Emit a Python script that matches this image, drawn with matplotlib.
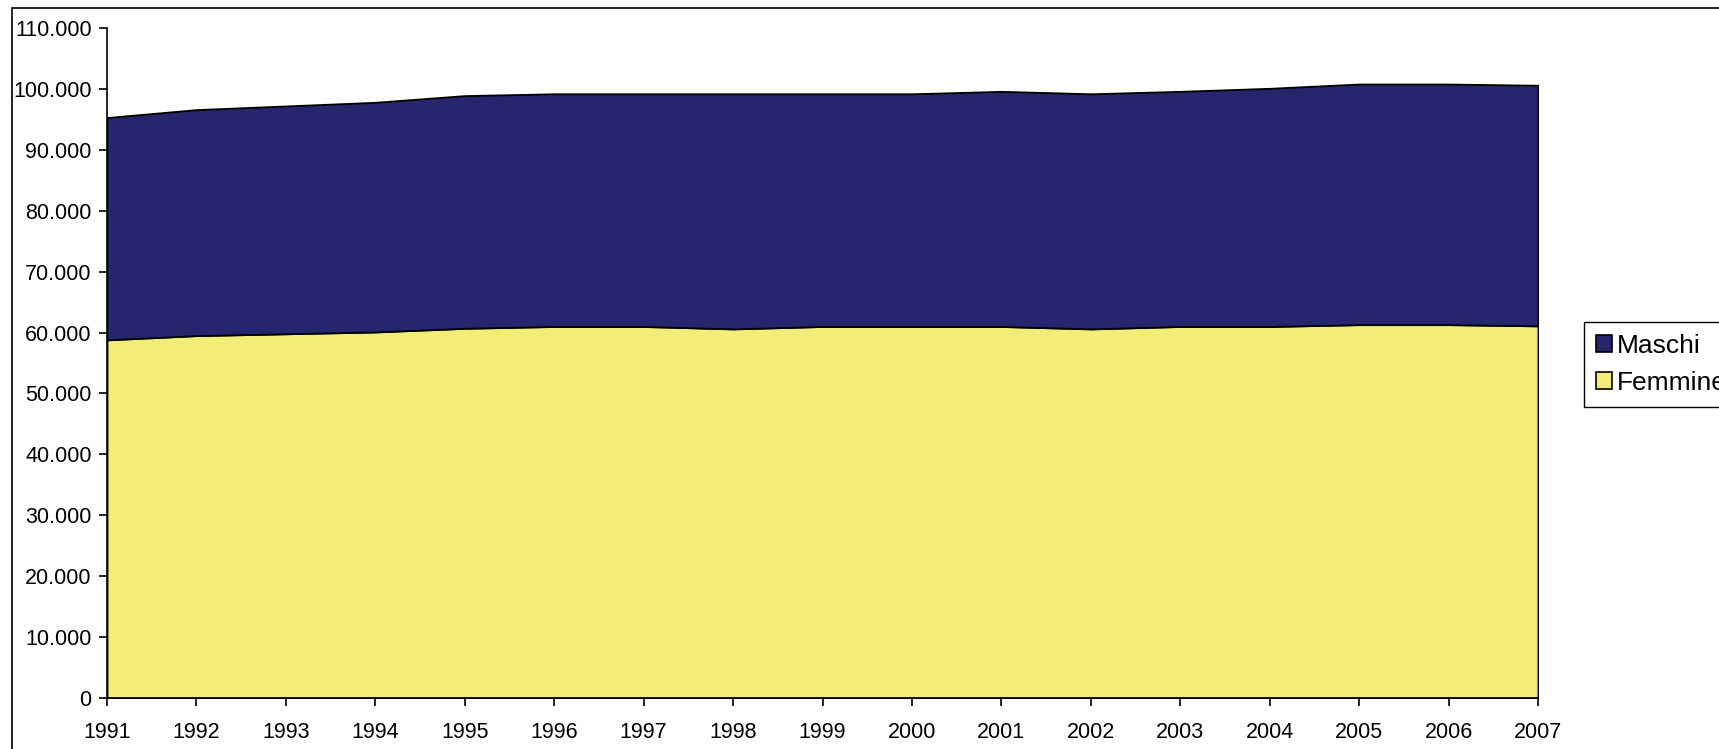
import matplotlib.pyplot as plt
import matplotlib.patches as patches
from matplotlib.ticker import FuncFormatter

# Popolazione per sesso, 1991-2007
years = list(range(1991, 2008))
femmine = [58800, 59500, 59800, 60100, 60700, 61000, 61000, 60600, 61000,
           61000, 61000, 60600, 61000, 61000, 61300, 61300, 61100]
maschi = [36500, 37100, 37400, 37700, 38200, 38200, 38200, 38600, 38200,
          38200, 38600, 38600, 38600, 39100, 39500, 39500, 39500]

labels = ['Femmine', 'Maschi']
colors = ['#F1ED76', '#26266E']

plt.rcParams['font.family'] = ['Liberation Sans', 'DejaVu Sans']

fig = plt.figure(figsize=(17.19, 7.49), dpi=100)
ax = fig.add_axes([107 / 1719, 1 - 698 / 749, (1538 - 107) / 1719, (698 - 28) / 749])

polys = ax.stackplot(years, femmine, maschi, labels=labels, colors=colors,
                     edgecolor='black', linewidth=1.3)

ax.set_xlim(1991, 2007)
ax.set_ylim(0, 110000)
ax.set_xticks(years)
ax.set_yticks(range(0, 110001, 10000))
ax.yaxis.set_major_formatter(FuncFormatter(lambda v, p: f'{int(v):,}'.replace(',', '.')))

for s in ['top', 'right']:
    ax.spines[s].set_visible(False)
for s in ['left', 'bottom']:
    ax.spines[s].set_linewidth(1.2)

ax.tick_params(axis='both', direction='out', length=6, width=1.2, labelsize=15.5)
ax.tick_params(axis='x', pad=11)
ax.tick_params(axis='y', pad=5)

# legenda: Maschi sopra, Femmine sotto
handles, lbls = ax.get_legend_handles_labels()
leg = fig.legend(handles[::-1], lbls[::-1], loc='upper left',
                 bbox_to_anchor=(1584 / 1719, 1 - 322 / 749),
                 fontsize=19, frameon=True, fancybox=False, framealpha=1,
                 edgecolor='black', handlelength=0.6, handleheight=0.6,
                 handletextpad=0.2, labelspacing=0.5, borderpad=0.45,
                 borderaxespad=0)
leg.get_frame().set_linewidth(1.0)
for h in leg.legend_handles:
    h.set_edgecolor('black')
    h.set_linewidth(1.2)

# bordo esterno del grafico
border = patches.Rectangle((12 / 1719, -0.1), 1.2, 1 - 8 / 749 + 0.1,
                           transform=fig.transFigure, fill=False,
                           edgecolor='black', linewidth=1.2, clip_on=False)
fig.patches.append(border)

fig.savefig('out.png', dpi=100, facecolor='white')
